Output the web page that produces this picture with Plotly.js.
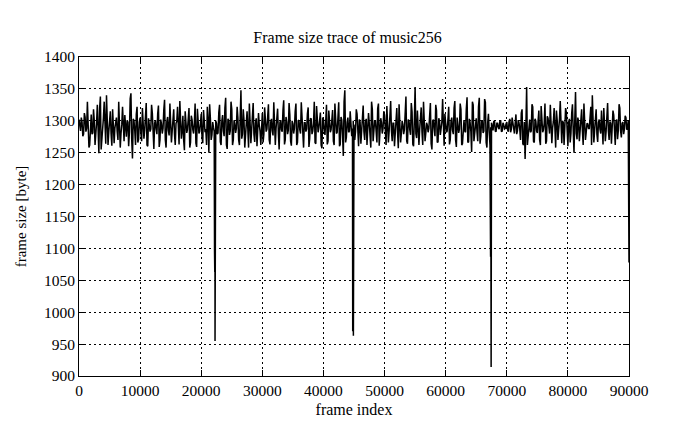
<!DOCTYPE html>
<html>
<head>
<meta charset="utf-8">
<script src="https://cdn.plot.ly/plotly-3.0.1.min.js"></script>
<style>html,body{margin:0;padding:0;background:#fff;}#chart{width:695px;height:429px;}</style>
</head>
<body>
<div id="chart"></div>
<script>
const frameStep = 250;
const frameSizesEven = [
  1302,1284,1298,1279,1306,1288,1296,1262,1310,1281,1300,1276,1325,1249,1338,1270,1305,1286,1340,1262,
  1296,1280,1318,1265,1302,1283,1330,1258,1294,1286,1309,1275,1298,1282,1343,1241,1300,1262,1322,1271,
  1305,1268,1297,1285,1328,1260,1292,1287,1312,1256,1301,1279,1324,1270,1295,1288,1333,1258,1306,1277,
  1290,1284,1318,1262,1299,1281,1331,1272,1308,1254,1296,1286,1320,1266,1302,1280,1327,1259,1294,1283,
  1311,1265,1298,1287,1322,1250,1304,1278,1290,1286,1296,1281,1325,1262,1309,1276,1336,1256,1300,1284,
  1318,1270,1295,1288,1305,1262,1348,1279,1301,1284,1315,1258,1297,1286,1328,1267,1304,1281,1293,1262,
  1312,1279,1299,1287,1326,1263,1303,1277,1296,1289,1319,1255,1301,1283,1332,1270,1298,1285,1310,1261,
  1295,1288,1327,1266,1300,1280,1306,1258,1297,1287,1321,1272,1303,1284,1330,1264,1294,1289,1313,1257,
  1302,1278,1325,1268,1296,1286,1317,1262,1299,1282,1329,1263,1301,1245,1348,1274,1305,1284,1296,1288,
  1294,1283,1311,1260,1298,1287,1324,1270,1303,1281,1296,1258,1318,1285,1300,1266,1327,1279,1297,1288,
  1309,1262,1301,1284,1331,1268,1296,1289,1320,1257,1304,1280,1294,1286,1338,1264,1300,1278,1314,1260,
  1353,1273,1297,1287,1321,1262,1305,1281,1293,1288,1328,1255,1302,1276,1316,1267,1299,1285,1334,1261,
  1298,1284,1322,1270,1305,1279,1331,1259,1296,1287,1318,1264,1301,1282,1337,1267,1297,1251,1325,1279,
  1304,1268,1336,1276,1300,1284,1329,1258,1311,1262,1297,1285,1299,1283,1296,1287,1300,1284,1294,1288,
  1298,1283,1303,1287,1295,1280,1310,1284,1297,1270,1318,1262,1240,1353,1275,1302,1284,1322,1266,1300,
  1281,1316,1262,1298,1286,1327,1268,1304,1280,1295,1289,1320,1258,1301,1283,1331,1265,1297,1287,1313,
  1260,1303,1280,1326,1250,1345,1271,1299,1286,1318,1262,1304,1282,1295,1288,1322,1340,1266,1301,1279,
  1297,1287,1316,1263,1300,1283,1328,1270,1296,1289,1309,1262,1302,1285,1320,1274,1298,1287,1305,1290
];
// Frame sizes in between (frames 125, 375, 625, ...)
const frameSizesOdd = [
  1288,1305,1276,1312,1283,1330,1258,1301,1279,1318,1262,1297,1280,1320,1255,1299,1330,1264,1296,1283,
  1315,1261,1297,1289,1305,1270,1296,1280,1322,1268,1292,1301,1260,1335,1271,1303,1285,1310,1266,1298,
  1281,1320,1272,1300,1262,1304,1283,1325,1268,1296,1287,1311,1259,1302,1280,1317,1270,1299,1285,1327,
  1266,1302,1279,1296,1322,1263,1299,1284,1270,1315,1281,1303,1258,1308,1286,1297,1265,1319,1280,1301,
  1275,1317,1282,1262,1300,1326,1270,1298,1283,1300,1279,1313,1267,1300,1284,1320,1262,1303,1278,1330,
  1262,1301,1281,1322,1270,1305,1272,1318,1258,1298,1287,1327,1265,1302,1279,1296,1260,1312,1284,1299,
  1266,1321,1283,1305,1270,1298,1284,1329,1262,1303,1280,1297,1286,1316,1263,1306,1279,1328,1268,1300,
  1280,1315,1262,1301,1286,1329,1270,1297,1283,1311,1259,1304,1279,1296,1266,1323,1282,1300,1262,1305,
  1285,1300,1263,1316,1282,1298,1268,1327,1280,1303,1260,1306,1278,1330,1266,1298,1282,1315,1276,1300,
  1270,1318,1280,1302,1264,1320,1283,1298,1262,1312,1279,1330,1268,1300,1284,1319,1261,1304,1280,1315,
  1278,1323,1266,1300,1285,1296,1260,1310,1282,1326,1266,1300,1279,1316,1268,1302,1286,1328,1263,1301,
  1280,1316,1262,1303,1283,1330,1268,1297,1282,1316,1264,1300,1287,1325,1266,1304,1278,1298,1262,1311,
  1282,1317,1263,1299,1285,1320,1270,1305,1281,1327,1262,1300,1284,1318,1266,1303,1283,1330,1268,1299,
  1283,1322,1264,1300,1281,1334,1266,1297,1283,1290,1288,1299,1284,1296,1289,1300,1283,1297,1287,1295,
  1286,1299,1282,1305,1288,1296,1279,1301,1287,1312,1264,1298,1290,1262,1300,1282,1326,1268,1303,1284,
  1300,1270,1323,1282,1296,1264,1307,1288,1325,1265,1299,1283,1316,1270,1303,1286,1300,1262,1320,1280,
  1298,1266,1312,1284,1300,1280,1305,1268,1302,1284,1327,1270,1296,1288,1312,1262,1301,1285,1318,1267,
  1302,1280,1297,1320,1268,1303,1284,1299,1264,1316,1282,1300,1271,1326,1284,1296,1279,1308,1286,1300
];
// Deep drops in frame size (frame index, size)
const dropFrames = [22180, 22220, 22260, 44790, 44900, 67350, 67400, 67440, 89950, 90000];
const dropSizes  = [1094, 1063, 955, 970, 963, 1087, 1046, 914, 1196, 1078];

const xTicks = [0,10000,20000,30000,40000,50000,60000,70000,80000,90000];
const yTicks = [900,950,1000,1050,1100,1150,1200,1250,1300,1350,1400];

// merge into one series sorted by frame index
const pts = frameSizesEven.map((v, i) => [i * frameStep, v])
  .concat(frameSizesOdd.map((v, i) => [i * frameStep + frameStep / 2, v]))
  .concat(dropFrames.map((f, i) => [f, dropSizes[i]]))
  .sort((a, b) => a[0] - b[0]);

const fam = '"Liberation Serif", "DejaVu Serif", serif';
const tickFont = {family: fam, size: 15.5, color: '#000'};
const titleFont = {family: fam, size: 16, color: '#000'};

const trace = {
  x: pts.map(p => p[0]),
  y: pts.map(p => p[1]),
  type: 'scatter',
  mode: 'lines',
  line: {color: '#000', width: 1.5},
  hoverinfo: 'skip'
};

const axisCommon = {
  showline: true, linecolor: '#000', linewidth: 1, mirror: 'allticks',
  ticks: 'inside', ticklen: 6, tickcolor: '#000', tickwidth: 1,
  showgrid: true, gridcolor: '#000', gridwidth: 1, griddash: '2px,3px',
  zeroline: false, tickfont: tickFont
};

const layout = {
  width: 695, height: 429,
  paper_bgcolor: '#fff', plot_bgcolor: '#fff',
  margin: {l: 79, r: 66, t: 57, b: 53},
  showlegend: false,
  font: tickFont,
  title: {text: 'Frame size trace of music256', font: titleFont, x: 0.5, xanchor: 'center', y: 0.912, yanchor: 'middle'},
  xaxis: Object.assign({}, axisCommon, {
    range: [0, 90000], tickmode: 'array', tickvals: xTicks, ticktext: xTicks.map(String),
    title: {text: 'frame index', font: titleFont, standoff: 6}
  }),
  yaxis: Object.assign({}, axisCommon, {
    range: [900, 1400], tickmode: 'array', tickvals: yTicks, ticktext: yTicks.map(String),
    title: {text: 'frame size [byte]', font: {family: fam, size: 15, color: '#000'}, standoff: 13}
  })
};

Plotly.newPlot('chart', [trace], layout, {displayModeBar: false, staticPlot: true});
</script>
</body>
</html>
